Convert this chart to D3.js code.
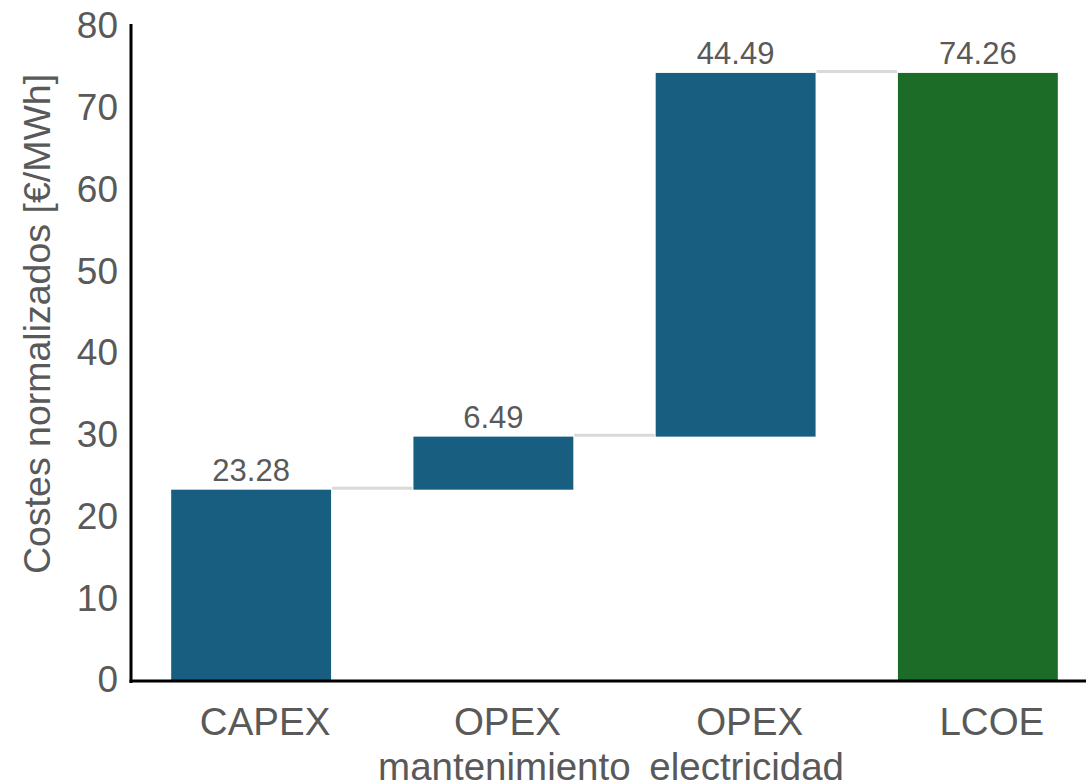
<!DOCTYPE html>
<html><head><meta charset="utf-8">
<script src="https://cdn.jsdelivr.net/npm/d3@7"></script>
<style>body{margin:0;background:#fff}text{font-family:Arial,"Liberation Sans",sans-serif}</style>
</head><body>
<svg id="c" width="1086" height="783"></svg>
<script>
const categories = [["CAPEX"], ["OPEX", "mantenimiento"], ["OPEX", "electricidad"], ["LCOE"]];
const values = [23.28, 6.49, 44.49, 74.26];
const isTotal = [false, false, false, true];
const yTicks = [0, 10, 20, 30, 40, 50, 60, 70, 80];
const yTitle = "Costes normalizados [€/MWh]";

const svg = d3.select("#c");
const x = d3.scaleBand().domain(d3.range(values.length)).range([130, 1099]).paddingInner(0.34).paddingOuter(0.17);
const y = d3.scaleLinear().domain([0, 80]).range([680, 26]);

// compute waterfall
let cum = 0;
const bars = values.map((v, i) => {
  let b;
  if (isTotal[i]) { b = {i, lo: 0, hi: v, v}; cum = v; }
  else { b = {i, lo: cum, hi: cum + v, v}; cum += v; }
  return b;
});

const blue = "#175e80", green = "#1c6b26", txt = "#595959";

// connectors
svg.append("g").selectAll("line").data(bars.slice(0, -1)).join("line")
  .attr("x1", d => x(d.i) + x.bandwidth() + 1)
  .attr("x2", d => x(d.i + 1) - 1)
  .attr("y1", d => y(d.hi) - 1.5).attr("y2", d => y(d.hi) - 1.5)
  .attr("stroke", "#d9d9d9").attr("stroke-width", 3);

svg.append("g").selectAll("rect").data(bars).join("rect")
  .attr("x", d => x(d.i)).attr("width", x.bandwidth())
  .attr("y", d => y(d.hi)).attr("height", d => y(d.lo) - y(d.hi))
  .attr("fill", d => isTotal[d.i] ? green : blue);

svg.append("g").selectAll("text").data(bars).join("text")
  .attr("x", d => x(d.i) + x.bandwidth() / 2)
  .attr("y", d => y(d.hi) - 9)
  .attr("text-anchor", "middle").attr("font-size", 31).attr("fill", txt)
  .text(d => d.v.toFixed(2));

// axes
const yAxis = svg.append("g").attr("transform", "translate(131,0)")
  .call(d3.axisLeft(y).tickValues(yTicks).tickSize(0).tickPadding(13));
yAxis.select(".domain").remove();
yAxis.selectAll("text").attr("font-size", 37).attr("fill", txt).attr("font-family", "Arial, 'Liberation Sans', sans-serif");

svg.append("line").attr("x1", 131).attr("x2", 131).attr("y1", 24).attr("y2", 683)
  .attr("stroke", "#000").attr("stroke-width", 3);
svg.append("line").attr("x1", 129.5).attr("x2", 1086).attr("y1", 681).attr("y2", 681)
  .attr("stroke", "#000").attr("stroke-width", 3);

const xl = svg.append("g").selectAll("text").data(categories).join("text")
  .attr("x", (d, i) => x(i) + x.bandwidth() / 2)
  .attr("y", 735).attr("text-anchor", "middle").attr("font-size", 38.5).attr("fill", txt);
xl.selectAll("tspan").data(d => d).join("tspan")
  .attr("x", function(d, i) { return +d3.select(this.parentNode).attr("x") + (i === 0 ? 14 : 11); })
  .attr("dy", (d, i) => i === 0 ? 0 : 45).text(d => d);

svg.append("text").attr("transform", "translate(50,324) rotate(-90)")
  .attr("text-anchor", "middle").attr("font-size", 37.5).attr("fill", txt).text(yTitle);
</script>
</body></html>
